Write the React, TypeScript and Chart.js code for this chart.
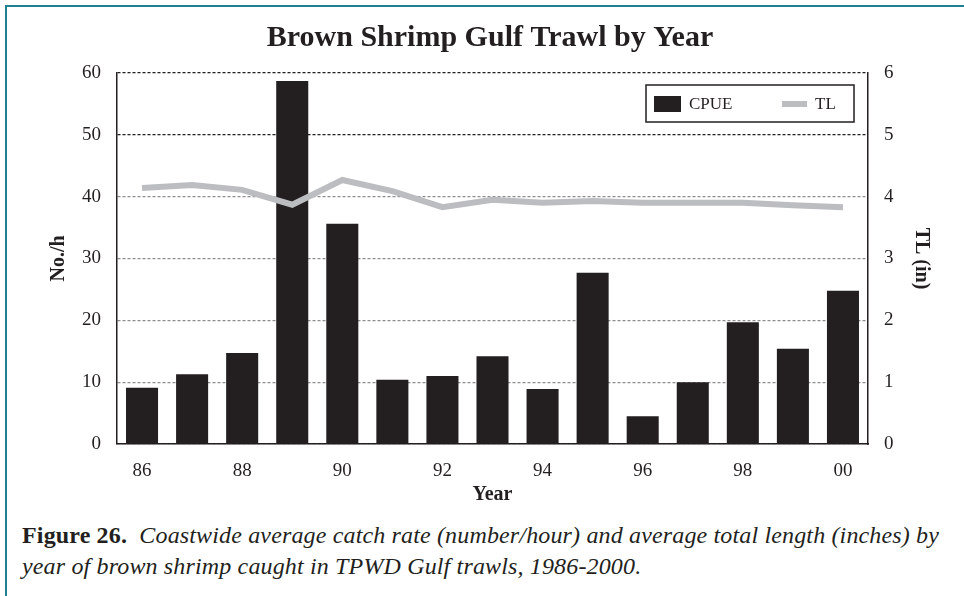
import React, { useEffect, useRef } from "react";
import { Chart, registerables } from "chart.js";

Chart.register(...registerables);

const years = ["86", "87", "88", "89", "90", "91", "92", "93", "94", "95", "96", "97", "98", "99", "00"];
const cpue = [9.1, 11.3, 14.7, 58.7, 35.6, 10.4, 11.0, 14.2, 8.9, 27.7, 4.5, 10.0, 19.7, 15.4, 24.8];
const tl = [4.14, 4.19, 4.11, 3.87, 4.27, 4.09, 3.83, 3.95, 3.9, 3.93, 3.9, 3.9, 3.9, 3.86, 3.83];
const leftTicks = [0, 10, 20, 30, 40, 50, 60];
const rightTicks = [0, 1, 2, 3, 4, 5, 6];

const FONT = "'Liberation Serif', 'DejaVu Serif', serif";
const INK = "#231f20";
const GRAY = "#bcbdc0";

const legendBoxPlugin = {
  id: "legendBox",
  afterDraw(chart: any) {
    const { ctx, chartArea } = chart;
    const x = chartArea.right - 222;
    const y = chartArea.top + 12;
    const w = 208;
    const h = 37;
    ctx.save();
    ctx.fillStyle = "#ffffff";
    ctx.fillRect(x, y, w, h);
    ctx.strokeStyle = INK;
    ctx.lineWidth = 1.5;
    ctx.strokeRect(x, y, w, h);
    const ds = chart.data.datasets;
    ctx.fillStyle = ds[0].backgroundColor;
    ctx.fillRect(x + 8, y + 11, 27, 16);
    ctx.font = `17px ${FONT}`;
    ctx.textBaseline = "middle";
    ctx.fillStyle = INK;
    ctx.fillText(ds[0].label, x + 43, y + 19.5);
    ctx.strokeStyle = ds[1].borderColor;
    ctx.lineWidth = 6;
    ctx.beginPath();
    ctx.moveTo(x + 136, y + 19);
    ctx.lineTo(x + 161, y + 19);
    ctx.stroke();
    ctx.fillText(ds[1].label, x + 169, y + 19.5);
    ctx.restore();
  },
};

export default function App() {
  const ref = useRef<HTMLCanvasElement | null>(null);

  useEffect(() => {
    if (!ref.current) return;
    const chart = new Chart(ref.current, {
      type: "bar",
      data: {
        labels: years,
        datasets: [
          {
            type: "bar",
            label: "CPUE",
            data: cpue,
            backgroundColor: INK,
            borderWidth: 0,
            barPercentage: 0.64,
            categoryPercentage: 1,
            yAxisID: "y",
            order: 1,
          },
          {
            type: "line",
            label: "TL",
            data: tl,
            borderColor: GRAY,
            backgroundColor: GRAY,
            borderWidth: 6,
            pointRadius: 0,
            tension: 0,
            fill: false,
            yAxisID: "y1",
            order: 0,
          } as any,
        ],
      },
      options: {
        animation: false,
        responsive: false,
        maintainAspectRatio: false,
        layout: { padding: 0 },
        plugins: {
          legend: { display: false },
          tooltip: { enabled: false },
          title: {
            display: true,
            text: "Brown Shrimp Gulf Trawl by Year",
            color: INK,
            font: { family: FONT, size: 30, weight: "bold", lineHeight: 1.2 },
            padding: { top: 20, bottom: 17 },
          },
        },
        scales: {
          x: {
            grid: { display: false, drawTicks: false },
            border: { display: true, color: INK, width: 1.5 },
            ticks: {
              autoSkip: false,
              maxRotation: 0,
              padding: 16,
              color: INK,
              font: { family: FONT, size: 19 },
              callback: (_v: any, i: number) => (i % 2 === 0 ? years[i] : ""),
            },
            title: {
              display: true,
              text: "Year",
              color: INK,
              font: { family: FONT, size: 20, weight: "bold", lineHeight: 1.2 },
              padding: { top: 0, bottom: 3 },
            },
            afterFit: (s: any) => {
              s.height = 66;
            },
          },
          y: {
            position: "left",
            min: 0,
            max: 60,
            afterBuildTicks: (s: any) => {
              s.ticks = leftTicks.map((v) => ({ value: v }));
            },
            grid: {
              drawTicks: false,
              lineWidth: 1.2,
              color: (c: any) => (c.tick && c.tick.value >= 50 ? INK : "#8e8e8e"),
            },
            border: { display: true, color: INK, width: 1.5, dash: [3, 2] },
            ticks: {
              padding: 16,
              color: INK,
              font: { family: FONT, size: 19 },
            },
            title: {
              display: true,
              text: "No./h",
              color: INK,
              font: { family: FONT, size: 20, weight: "bold", lineHeight: 1.2 },
              padding: { top: 31, bottom: 0 },
            },
            afterFit: (s: any) => {
              s.width = 101;
            },
          },
          y1: {
            position: "right",
            min: 0,
            max: 6,
            afterBuildTicks: (s: any) => {
              s.ticks = rightTicks.map((v) => ({ value: v }));
            },
            grid: { display: false, drawTicks: false },
            border: { display: true, color: INK, width: 1.5 },
            ticks: {
              padding: 16,
              color: INK,
              font: { family: FONT, size: 19 },
            },
            title: {
              display: true,
              text: "TL (in)",
              color: INK,
              font: { family: FONT, size: 20, weight: "bold", lineHeight: 1.2 },
              padding: { top: 31, bottom: 0 },
            },
            afterFit: (s: any) => {
              s.width = 96;
            },
          },
        } as any,
      },
      plugins: [legendBoxPlugin],
    });
    return () => chart.destroy();
  }, []);

  return (
    <div
      style={{
        position: "fixed",
        left: 0,
        top: 0,
        width: 964,
        height: 596,
        overflow: "hidden",
        background: "#ffffff",
      }}
    >
      <canvas
        ref={ref}
        width={948}
        height={510}
        style={{ position: "absolute", left: 16, top: 0, width: 948, height: 510 }}
      />
      <div style={{ position: "absolute", left: 5, top: 5, width: 959, height: 2, background: "#1f8090" }} />
      <div style={{ position: "absolute", left: 5, top: 5, width: 2, height: 591, background: "#1f8090" }} />
      <div
        style={{
          position: "absolute",
          left: 22,
          top: 520,
          fontFamily: FONT,
          fontSize: 24,
          letterSpacing: "0.15px",
          lineHeight: "31px",
          color: INK,
          whiteSpace: "nowrap",
        }}
      >
        <b>Figure 26.</b>
        <i>
          &nbsp;&nbsp;Coastwide average catch rate (number/hour) and average total length (inches) by
          <br />
          year of brown shrimp caught in TPWD Gulf trawls, 1986-2000.
        </i>
      </div>
    </div>
  );
}
